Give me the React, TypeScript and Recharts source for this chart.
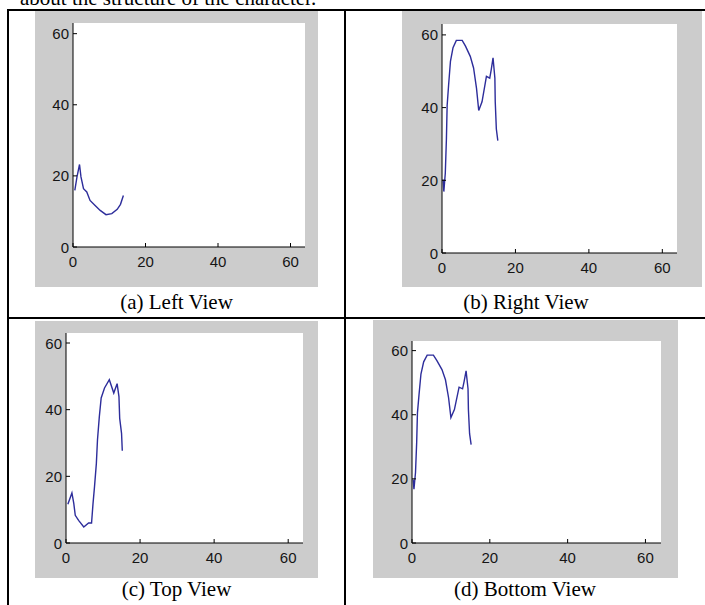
import { CartesianGrid, Line, LineChart, XAxis, YAxis } from "recharts"

// values
const axisTicks = [0, 20, 40, 60]
const xDomain: [number, number] = [0, 64]
const yDomain: [number, number] = [0, 63]

const leftViewX = [0.5, 1.1, 1.8, 2.2, 2.9, 3.8, 4.7, 6.1, 7.5, 9.1, 10.7, 12.2, 13.1, 13.9]
const leftViewY = [15.9, 19.7, 23.2, 19.7, 16.4, 15.5, 13.1, 11.7, 10.3, 9.1, 9.4, 10.6, 12, 14.5]

const rightViewX = [0.3, 0.5, 0.9, 1.2, 1.4, 1.8, 2.3, 3, 3.9, 5.5, 6.4, 7.7, 8.6, 9.4, 10, 10.9, 12.1, 13, 13.4, 13.9, 14.4, 14.5, 14.8, 15.2]
const rightViewY = [20.2, 16.9, 22, 31.3, 40.6, 46.2, 52.7, 56.5, 58.5, 58.5, 56.9, 54.1, 50.9, 45.3, 39.2, 41.6, 48.6, 48.1, 50.4, 53.7, 48.1, 41.6, 34.1, 30.9]

const topViewX = [0.5, 1.6, 2.1, 2.5, 3.4, 4.8, 6.1, 6.9, 7.3, 7.7, 8.2, 8.5, 9, 9.5, 10.4, 11.7, 12.9, 13.8, 14.3, 14.5, 15, 15.2]
const topViewY = [11.6, 15, 11.9, 8.3, 6.8, 4.8, 6, 6, 11.9, 16.9, 23.9, 30.9, 37.9, 43.5, 46.5, 49, 45, 47.8, 43.9, 37.4, 32.9, 27.7]

// bottom view looks the same as the right view
const bottomViewX = [0.3, 0.5, 0.9, 1.2, 1.4, 1.8, 2.3, 3, 3.9, 5.5, 6.4, 7.7, 8.6, 9.4, 10, 10.9, 12.1, 13, 13.4, 13.9, 14.4, 14.5, 14.8, 15.2]
const bottomViewY = [19.8, 16.8, 22, 31.3, 40.6, 46.2, 52.7, 56.5, 58.6, 58.6, 56.9, 54.1, 50.9, 45.3, 39.1, 41.6, 48.6, 48.1, 50.4, 53.7, 48.1, 41.6, 34.1, 30.7]

const captions = ["(a) Left View", "(b) Right View", "(c) Top View", "(d) Bottom View"]

const toPoints = (xs: number[], ys: number[]) => xs.map((x, i) => ({ x, y: ys[i] }))

const TICK_LEN = 4
const LINE_COLOR = "#2d2d9b"
const tickFont = { fontFamily: "'Liberation Sans', Arial, sans-serif", fontSize: 15, fill: "#151515" }

const BottomTick = ({ x, y, payload }: any) => (
  <g>
    <line x1={x} x2={x} y1={y} y2={y - TICK_LEN} stroke="#000" />
    <text x={x} y={y + 14} textAnchor="middle" dominantBaseline="central" {...tickFont}>
      {payload.value}
    </text>
  </g>
)

const LeftTick = ({ x, y, payload }: any) => (
  <g>
    <line x1={x} x2={x + TICK_LEN} y1={y} y2={y} stroke="#000" />
    <text x={x - 4} y={y} textAnchor="end" dominantBaseline="central" {...tickFont}>
      {payload.value}
    </text>
  </g>
)

const TopTick = ({ x, y }: any) => <line x1={x} x2={x} y1={y} y2={y + TICK_LEN} stroke="#000" />
const RightTick = ({ x, y }: any) => <line x1={x} x2={x - TICK_LEN} y1={y} y2={y} stroke="#000" />

interface PanelProps {
  left: number
  top: number
  width: number
  height: number
  plot: { left: number; right: number; top: number; bottom: number }
  data: { x: number; y: number }[]
}

function Panel({ left, top, width, height, plot, data }: PanelProps) {
  return (
    <div style={{ position: "absolute", left, top, width, height, background: "#cccccc" }}>
      <LineChart
        width={width}
        height={height}
        data={data}
        margin={{ top: plot.top, right: plot.right, left: 0, bottom: 0 }}
      >
        <CartesianGrid horizontal={false} vertical={false} fill="#ffffff" />
        <XAxis
          type="number"
          dataKey="x"
          domain={xDomain}
          ticks={axisTicks}
          height={plot.bottom}
          tickSize={0}
          tickMargin={0}
          tickLine={false}
          axisLine={{ stroke: "#000" }}
          tick={<BottomTick />}
          allowDataOverflow
        />
        <XAxis
          xAxisId="top"
          orientation="top"
          type="number"
          domain={xDomain}
          ticks={axisTicks}
          height={0}
          tickSize={0}
          tickMargin={0}
          tickLine={false}
          axisLine={{ stroke: "#000" }}
          tick={<TopTick />}
          allowDataOverflow
        />
        <YAxis
          type="number"
          domain={yDomain}
          ticks={axisTicks}
          width={plot.left}
          tickSize={0}
          tickMargin={0}
          tickLine={false}
          axisLine={{ stroke: "#000" }}
          tick={<LeftTick />}
          allowDataOverflow
        />
        <YAxis
          yAxisId="right"
          orientation="right"
          type="number"
          domain={yDomain}
          ticks={axisTicks}
          width={0}
          tickSize={0}
          tickMargin={0}
          tickLine={false}
          axisLine={{ stroke: "#000" }}
          tick={<RightTick />}
          allowDataOverflow
        />
        <Line
          type="linear"
          dataKey="y"
          stroke={LINE_COLOR}
          strokeWidth={1.4}
          dot={false}
          isAnimationActive={false}
        />
      </LineChart>
    </div>
  )
}

const captionStyle = {
  position: "absolute" as const,
  textAlign: "center" as const,
  fontFamily: "'Liberation Serif', 'Times New Roman', serif",
  fontSize: 21,
  lineHeight: "21px",
  color: "#000",
  whiteSpace: "nowrap" as const,
}

const rule = (left: number, top: number, width: number, height: number) => (
  <div style={{ position: "absolute", left, top, width, height, background: "#000" }} />
)

export default function App() {
  return (
    <div
      style={{
        position: "absolute",
        left: 0,
        top: 0,
        width: 705,
        height: 605,
        overflow: "hidden",
        background: "#fff",
      }}
    >
      {/* tail of the sentence above the figure, cut off by the crop as in the source */}
      <div style={{ ...captionStyle, left: 20, top: -12, textAlign: "left" }}>
        about the structure of the character.
      </div>

      {rule(7, 9, 698, 2)}
      {rule(7, 317, 698, 2)}
      {rule(7, 9, 2, 596)}
      {rule(344, 9, 2, 596)}

      <Panel
        left={35}
        top={11}
        width={283}
        height={276}
        plot={{ left: 38, right: 13, top: 12, bottom: 40 }}
        data={toPoints(leftViewX, leftViewY)}
      />
      <Panel
        left={402}
        top={11}
        width={300}
        height={276}
        plot={{ left: 40, right: 25, top: 13, bottom: 34 }}
        data={toPoints(rightViewX, rightViewY)}
      />
      <Panel
        left={35}
        top={321}
        width={283}
        height={257}
        plot={{ left: 31, right: 15, top: 12, bottom: 35 }}
        data={toPoints(topViewX, topViewY)}
      />
      <Panel
        left={373}
        top={320}
        width={305}
        height={258}
        plot={{ left: 39, right: 17, top: 21, bottom: 35 }}
        data={toPoints(bottomViewX, bottomViewY)}
      />

      <div style={{ ...captionStyle, left: 9, width: 335, top: 292 }}>{captions[0]}</div>
      <div style={{ ...captionStyle, left: 346, width: 360, top: 292 }}>{captions[1]}</div>
      <div style={{ ...captionStyle, left: 9, width: 335, top: 579 }}>{captions[2]}</div>
      <div style={{ ...captionStyle, left: 346, width: 358, top: 579 }}>{captions[3]}</div>
    </div>
  )
}
